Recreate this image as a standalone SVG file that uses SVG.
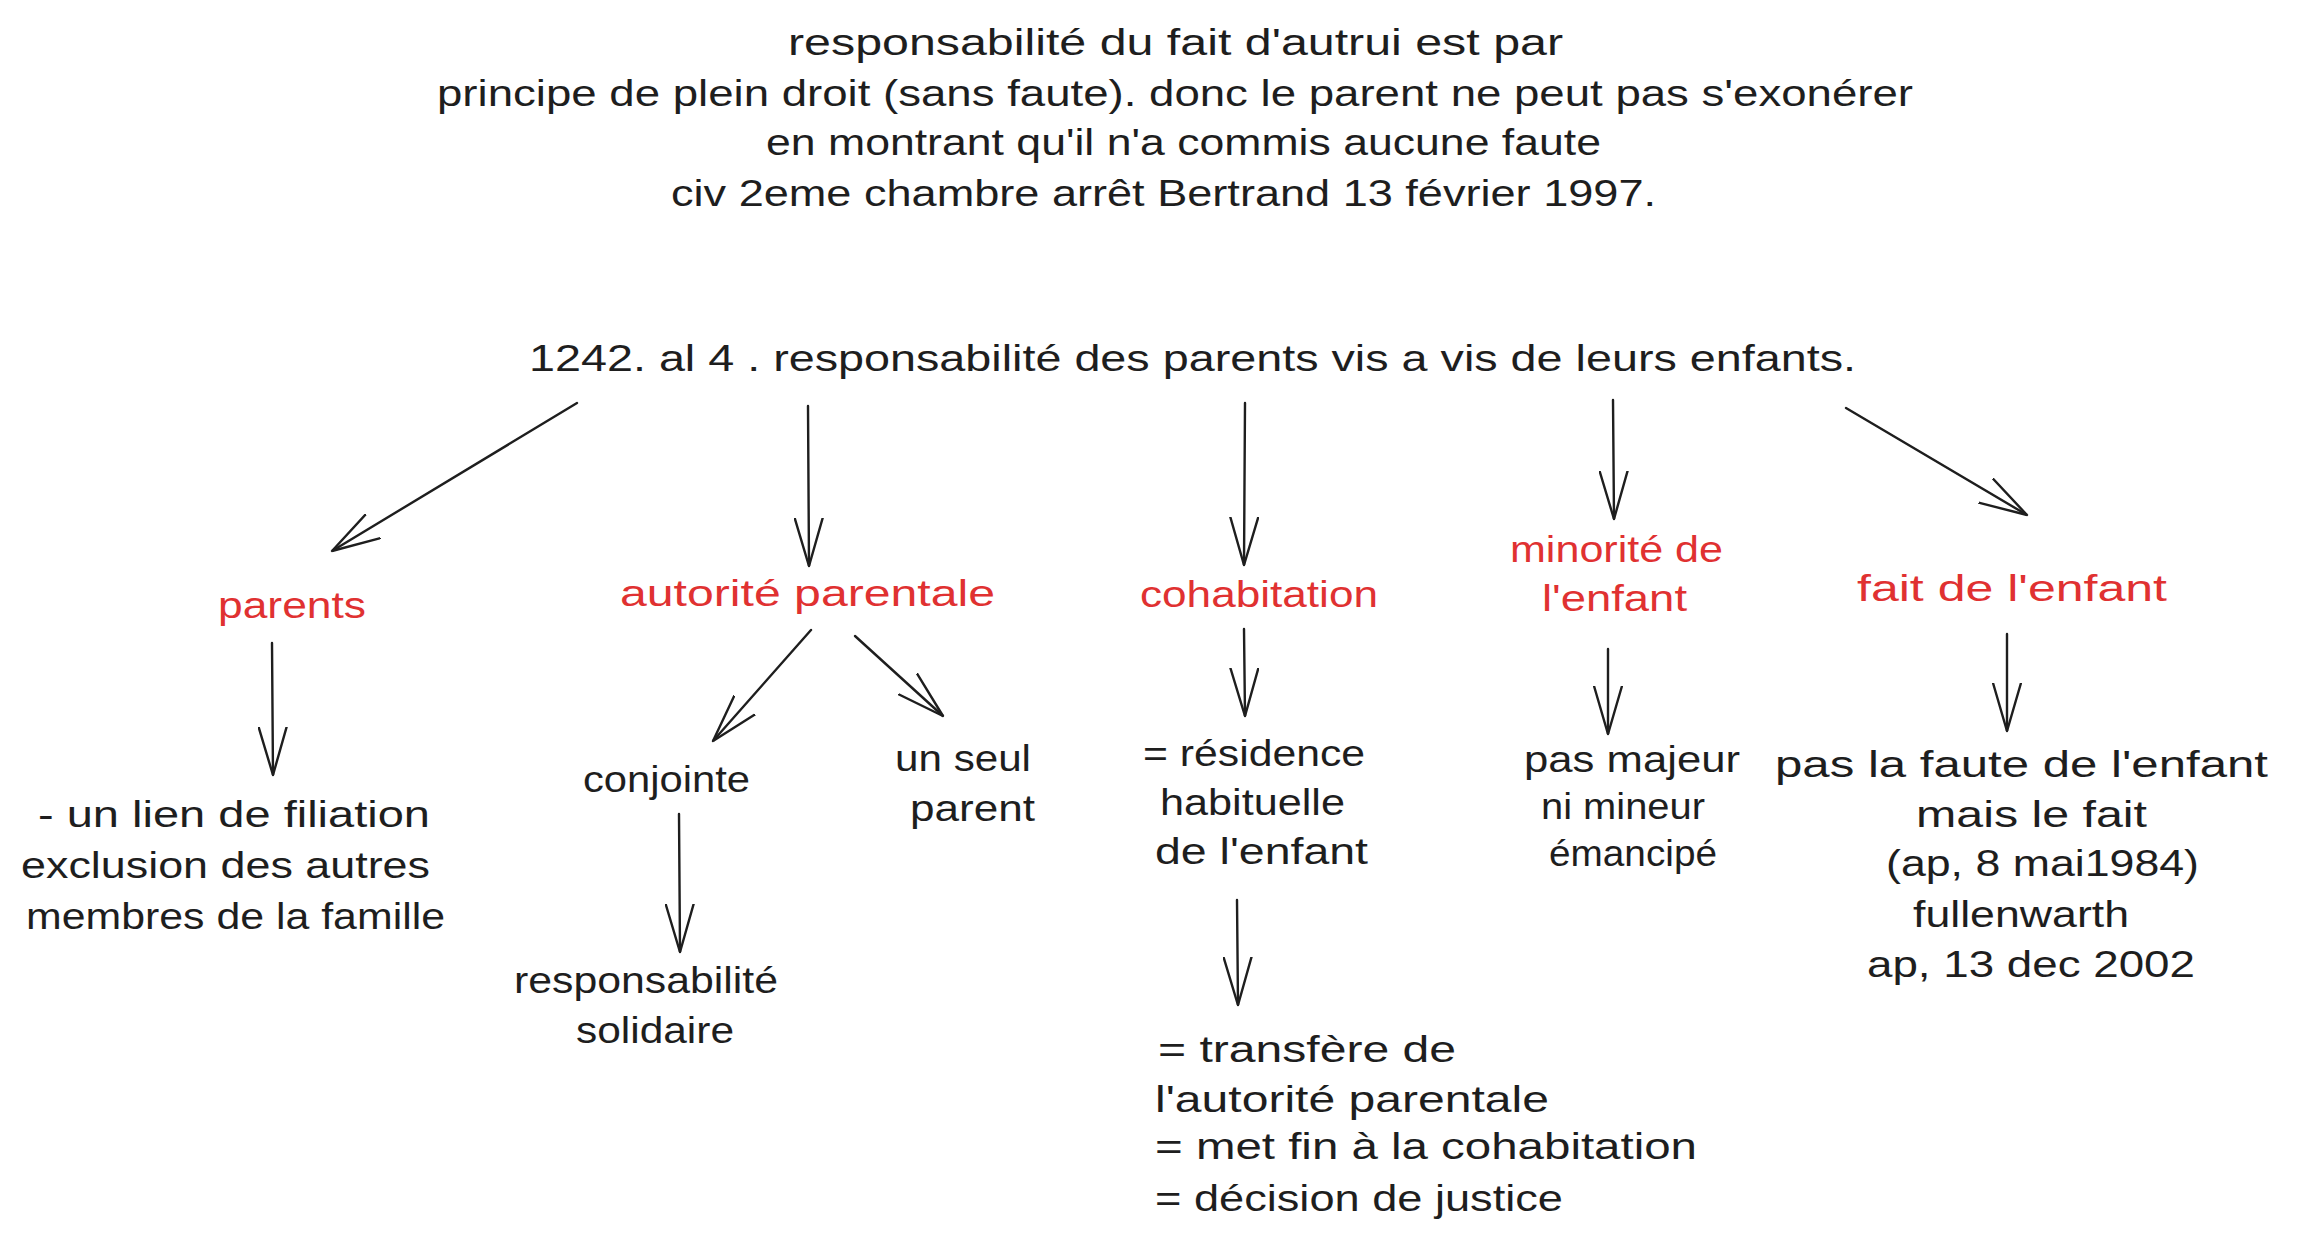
<svg xmlns="http://www.w3.org/2000/svg" width="2303" height="1243" viewBox="0 0 2303 1243">
<style>
text{font-family:"Liberation Sans","DejaVu Sans",sans-serif;font-size:36px;fill:#1e1e1e}
.red{fill:#e03131}
.conn line{stroke:#1e1e1e;stroke-width:2.4;stroke-linecap:round;marker-end:url(#ah)}
</style>
<defs>
<marker id="ah" viewBox="0 0 48 30" refX="48" refY="15" markerWidth="48" markerHeight="30" markerUnits="userSpaceOnUse" orient="auto">
<path d="M0,1 L48,15 L0,29" fill="none" stroke="#1e1e1e" stroke-width="2.4" stroke-linecap="round" stroke-linejoin="round"/>
</marker>
</defs>
<rect width="2303" height="1243" fill="#ffffff"/>
<g id="title">
<text x="788" y="55" textLength="775" lengthAdjust="spacingAndGlyphs">responsabilité du fait d'autrui est par</text>
<text x="437" y="106" textLength="1476" lengthAdjust="spacingAndGlyphs">principe de plein droit (sans faute). donc le parent ne peut pas s'exonérer</text>
<text x="766" y="155" textLength="835" lengthAdjust="spacingAndGlyphs">en montrant qu'il n'a commis aucune faute</text>
<text x="671" y="206" textLength="985" lengthAdjust="spacingAndGlyphs">civ 2eme chambre arrêt Bertrand 13 février 1997.</text>
</g>
<g id="main">
<text x="529" y="371" textLength="1327" lengthAdjust="spacingAndGlyphs">1242. al 4 . responsabilité des parents vis a vis de leurs enfants.</text>
</g>
<g id="parents"><text class="red" x="218" y="618" textLength="148" lengthAdjust="spacingAndGlyphs">parents</text></g>
<g id="autorite"><text class="red" x="620" y="606" textLength="375" lengthAdjust="spacingAndGlyphs">autorité parentale</text></g>
<g id="cohabitation"><text class="red" x="1140" y="607" textLength="238" lengthAdjust="spacingAndGlyphs">cohabitation</text></g>
<g id="minorite">
<text class="red" x="1510" y="562" textLength="213" lengthAdjust="spacingAndGlyphs">minorité de</text>
<text class="red" x="1542" y="611" textLength="145" lengthAdjust="spacingAndGlyphs">l'enfant</text>
</g>
<g id="fait"><text class="red" x="1857" y="601" textLength="310" lengthAdjust="spacingAndGlyphs">fait de l'enfant</text></g>
<g id="filiation">
<text x="38" y="827" textLength="392" lengthAdjust="spacingAndGlyphs">- un lien de filiation</text>
<text x="21" y="878" textLength="409" lengthAdjust="spacingAndGlyphs">exclusion des autres</text>
<text x="26" y="929" textLength="419" lengthAdjust="spacingAndGlyphs">membres de la famille</text>
</g>
<g id="conjointe"><text x="583" y="792" textLength="167" lengthAdjust="spacingAndGlyphs">conjointe</text></g>
<g id="seul">
<text x="895" y="771" textLength="136" lengthAdjust="spacingAndGlyphs">un seul</text>
<text x="910" y="821" textLength="125" lengthAdjust="spacingAndGlyphs">parent</text>
</g>
<g id="solidaire">
<text x="514" y="993" textLength="264" lengthAdjust="spacingAndGlyphs">responsabilité</text>
<text x="576" y="1043" textLength="158" lengthAdjust="spacingAndGlyphs">solidaire</text>
</g>
<g id="residence">
<text x="1143" y="766" textLength="222" lengthAdjust="spacingAndGlyphs">= résidence</text>
<text x="1160" y="815" textLength="185" lengthAdjust="spacingAndGlyphs">habituelle</text>
<text x="1155" y="864" textLength="213" lengthAdjust="spacingAndGlyphs">de l'enfant</text>
</g>
<g id="majeur">
<text x="1524" y="772" textLength="216" lengthAdjust="spacingAndGlyphs">pas majeur</text>
<text x="1541" y="819" textLength="164" lengthAdjust="spacingAndGlyphs">ni mineur</text>
<text x="1549" y="866" textLength="168" lengthAdjust="spacingAndGlyphs">émancipé</text>
</g>
<g id="faute">
<text x="1775" y="777" textLength="493" lengthAdjust="spacingAndGlyphs">pas la faute de l'enfant</text>
<text x="1916" y="827" textLength="231" lengthAdjust="spacingAndGlyphs">mais le fait</text>
<text x="1886" y="876" textLength="313" lengthAdjust="spacingAndGlyphs">(ap, 8 mai1984)</text>
<text x="1913" y="927" textLength="216" lengthAdjust="spacingAndGlyphs">fullenwarth</text>
<text x="1867" y="977" textLength="328" lengthAdjust="spacingAndGlyphs">ap, 13 dec 2002</text>
</g>
<g id="transfere">
<text x="1158" y="1062" textLength="298" lengthAdjust="spacingAndGlyphs">= transfère de</text>
<text x="1155" y="1112" textLength="394" lengthAdjust="spacingAndGlyphs">l'autorité parentale</text>
<text x="1155" y="1159" textLength="542" lengthAdjust="spacingAndGlyphs">= met fin à la cohabitation</text>
<text x="1155" y="1211" textLength="408" lengthAdjust="spacingAndGlyphs">= décision de justice</text>
</g>
<g id="connectors" class="conn">
<line x1="577" y1="403" x2="332" y2="551"/>
<line x1="808" y1="406" x2="809" y2="566"/>
<line x1="1245" y1="403" x2="1244" y2="565"/>
<line x1="1613" y1="400" x2="1614" y2="519"/>
<line x1="1846" y1="408" x2="2027" y2="515"/>
<line x1="272" y1="643" x2="273" y2="775"/>
<line x1="811" y1="630" x2="713" y2="741"/>
<line x1="855" y1="636" x2="943" y2="716"/>
<line x1="679" y1="814" x2="680" y2="952"/>
<line x1="1244" y1="629" x2="1245" y2="716"/>
<line x1="1237" y1="900" x2="1238" y2="1005"/>
<line x1="1608" y1="649" x2="1608" y2="734"/>
<line x1="2007" y1="634" x2="2007" y2="731"/>
</g>
</svg>
